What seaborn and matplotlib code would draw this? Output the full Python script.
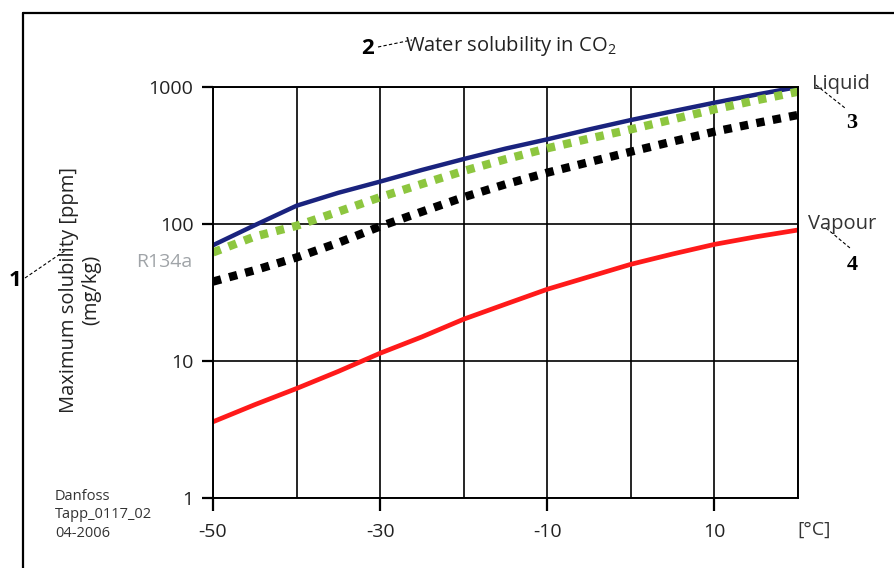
import numpy as np
import pandas as pd
import matplotlib
matplotlib.use("Agg")
import matplotlib.pyplot as plt
from matplotlib.lines import Line2D
import seaborn as sns

# temperatures in degC and solubility in ppm
temps = [-50, -45, -40, -35, -30, -25, -20, -15, -10, -5, 0, 5, 10, 15, 20]
liquid_co2 = [70, 98, 136, 169, 204, 248, 298, 355, 415, 490, 574, 665, 768, 880, 1000]
green_dotted = [62, 81, 97, 123, 157, 196, 244, 297, 357, 420, 491, 580, 687, 800, 924]
r134a = [38, 46, 57, 73, 96, 123, 157, 195, 237, 283, 337, 400, 472, 545, 625]
vapour_co2 = [3.6, 4.8, 6.3, 8.4, 11.4, 15, 20.2, 26, 33.4, 41.2, 50.8, 60.4, 71, 80.7, 90.4]

major_x = [-50, -30, -10, 10]
minor_x = [-40, -20, 0, 20]
y_ticks = [1, 10, 100, 1000]
y_labels = ["1", "10", "100", "1000"]

sns.set_style("white")
plt.rcParams["font.family"] = ["Open Sans", "DejaVu Sans"]
plt.rcParams["axes.unicode_minus"] = False
plt.rcParams["mathtext.fontset"] = "custom"
plt.rcParams["mathtext.rm"] = "Open Sans"

W, H = 894, 568
fig = plt.figure(figsize=(W / 100, H / 100), dpi=100)
ax = fig.add_axes([213 / W, 70 / H, 585 / W, 411 / H])


def px(x, y):
    return x / W, 1 - y / H


df = pd.DataFrame({"t": temps, "liq": liquid_co2, "grn": green_dotted,
                   "r134a": r134a, "vap": vapour_co2})

sns.lineplot(data=df, x="t", y="vap", ax=ax, color="#ff1a1a", lw=3.4)
sns.lineplot(data=df, x="t", y="r134a", ax=ax, color="black", lw=6,
             linestyle=(0, (1, 1)), dash_capstyle="butt")
sns.lineplot(data=df, x="t", y="liq", ax=ax, color="#1a237e", lw=3.2)
sns.lineplot(data=df, x="t", y="grn", ax=ax, color="#8dc63f", lw=6,
             linestyle=(0, (1, 1)), dash_capstyle="butt")

ax.set_yscale("log")
ax.set_xlim(-50, 20)
ax.set_ylim(1, 1000)
ax.set_xticks(major_x)
ax.set_xticks(minor_x, minor=True)
ax.set_yticks(y_ticks)
ax.set_yticklabels(y_labels)
ax.yaxis.set_minor_locator(matplotlib.ticker.NullLocator())
ax.grid(True, which="both", axis="x", color="black", lw=1.2)
ax.grid(True, which="major", axis="y", color="black", lw=1.2)
ax.tick_params(axis="x", which="major", length=12, labelsize=14, pad=6)
ax.tick_params(axis="x", which="minor", length=0)
ax.tick_params(axis="y", which="major", length=10, labelsize=14, pad=4)
for lab in ax.get_xticklabels() + ax.get_yticklabels():
    lab.set_color("#222222")
for s in ax.spines.values():
    s.set_color("black")
    s.set_linewidth(1.4)
ax.set_xlabel("")
ax.set_ylabel("")

# outward tick marks
ax.vlines(major_x, -13 / 411, 0, transform=ax.get_xaxis_transform(),
          color="black", lw=1.6, clip_on=False)
ax.hlines(y_ticks, -11 / 585, 0, transform=ax.get_yaxis_transform(),
          color="black", lw=1.6, clip_on=False)

# outer frame (left and top only)
fig.add_artist(Line2D([23 / W, 23 / W], [0, 1 - 13 / H], color="black", lw=1.6))
fig.add_artist(Line2D([23 / W, 1], [1 - 13 / H, 1 - 13 / H], color="black", lw=1.6))

# texts
fig.text(*px(405, 46), r"Water solubility in CO$\mathregular{_2}$", fontsize=14.5,
         color="#222222", ha="left", va="center")
fig.text(*px(80, 290), "Maximum solubility [ppm]\n(mg/kg)", rotation=90,
         fontsize=14.5, color="#222222", ha="center", va="center",
         linespacing=1.1, multialignment="center")
fig.text(*px(192, 262), "R134a", fontsize=14, color="#a0a4a8",
         ha="right", va="center")
fig.text(*px(812, 84), "Liquid", fontsize=14.5, color="#333333",
         ha="left", va="center")
fig.text(*px(808, 224), "Vapour", fontsize=14.5, color="#333333",
         ha="left", va="center")
fig.text(*px(797, 530), "[°C]", fontsize=14, color="#333333",
         ha="left", va="center")
fig.text(*px(55, 515), "Danfoss\nTapp_0117_02\n04-2006", fontsize=10.5,
         color="#333333", ha="left", va="center", linespacing=1.3)

# numbered callouts with dashed leaders
for x, y, s, fam in [(368, 49, "2", ["Open Sans", "DejaVu Sans"]),
                     (15, 280, "1", ["Open Sans", "DejaVu Sans"]),
                     (852, 123, "3", ["Liberation Serif", "DejaVu Serif"]),
                     (852, 265, "4", ["Liberation Serif", "DejaVu Serif"])]:
    fig.text(*px(x, y), s, fontsize=16, fontweight="bold", family=fam,
             color="black", ha="center", va="center")
for (x0, y0), (x1, y1) in [((378, 47), (412, 40)), ((25, 278), (66, 250)),
                           ((816, 85), (845, 108)), ((826, 228), (850, 248))]:
    fig.add_artist(Line2D([x0 / W, x1 / W], [1 - y0 / H, 1 - y1 / H],
                          color="black", lw=0.8, linestyle=(0, (3, 2))))

fig.savefig("out.png", dpi=100)
